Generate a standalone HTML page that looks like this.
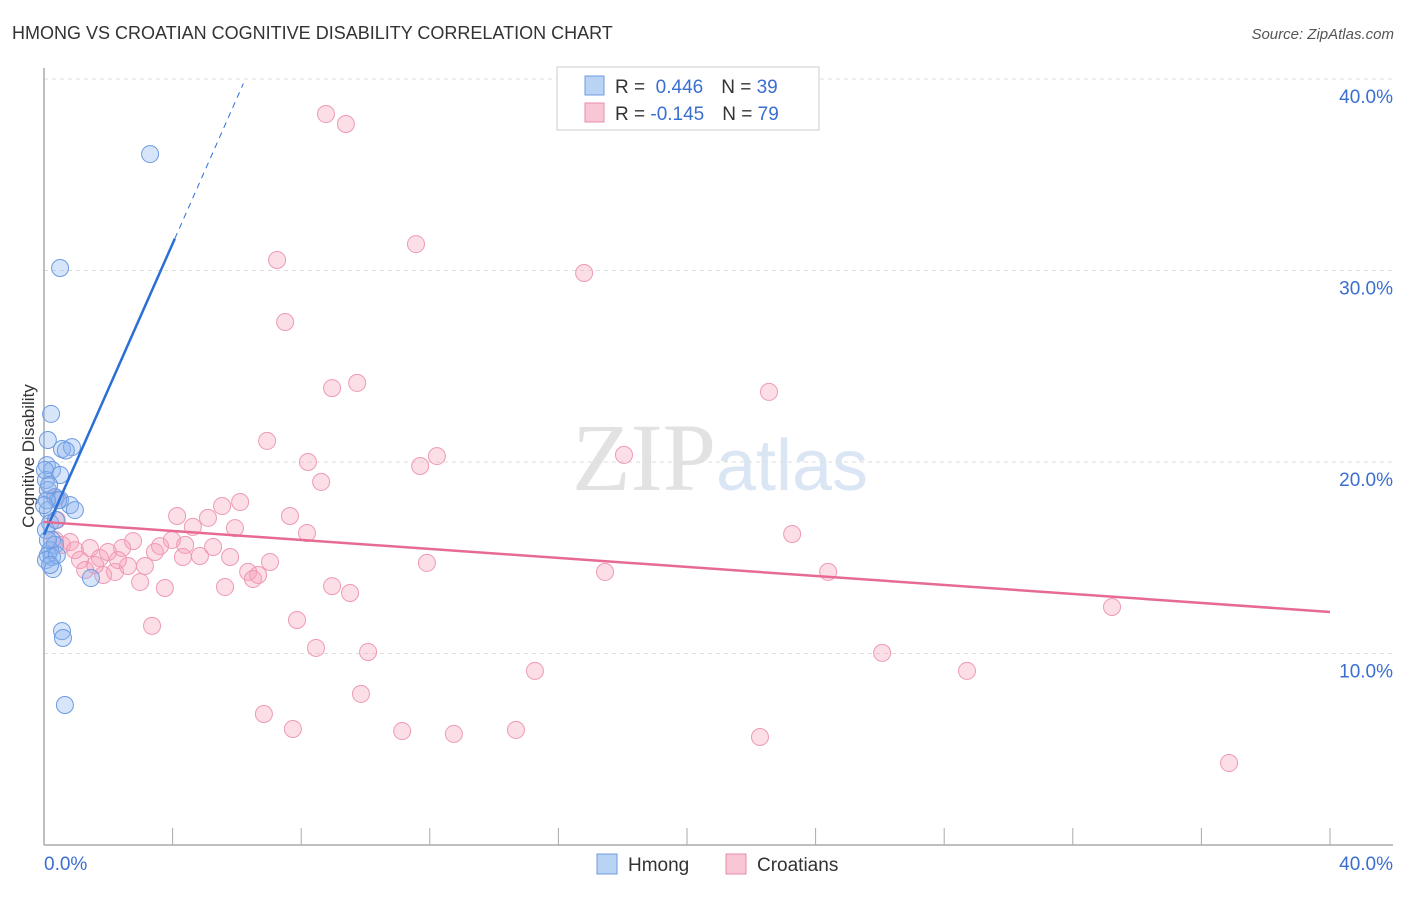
<!DOCTYPE html>
<html><head><meta charset="utf-8"><style>
body{margin:0;background:#fff;font-family:"Liberation Sans",sans-serif}
</style></head><body>
<svg width="1406" height="892" xmlns="http://www.w3.org/2000/svg" font-family="Liberation Sans, sans-serif">
<text x="12" y="39" font-size="18" fill="#333">HMONG VS CROATIAN COGNITIVE DISABILITY CORRELATION CHART</text>
<text x="1394" y="39" font-size="15" fill="#555" text-anchor="end" font-style="italic">Source: ZipAtlas.com</text>
<text x="720" y="490" font-size="96" text-anchor="middle" font-family="Liberation Serif, serif"><tspan fill="#e2e2e2">ZIP</tspan><tspan fill="#dbe6f5" font-family="Liberation Sans, sans-serif" font-size="72">atlas</tspan></text>
<g id="grid"></g>
<g id="axes"></g>
<text transform="translate(34,456) rotate(-90)" font-size="17" fill="#333" text-anchor="middle">Cognitive Disability</text>
<g id="pts"></g>
<g id="lines"></g>
<g>
<rect x="557" y="67" width="262" height="63" fill="#fff" stroke="#ccc"/>
<rect x="585" y="76" width="19" height="19" fill="#b9d3f5" stroke="#6d9be0"/>
<rect x="585" y="103" width="19" height="19" fill="#f9c6d5" stroke="#ea8eaa"/>
<text x="615" y="93" font-size="19" fill="#333">R = <tspan fill="#3a6fd1">&#160;0.446</tspan><tspan dx="18" fill="#333">N = </tspan><tspan fill="#3a6fd1">39</tspan></text>
<text x="615" y="120" font-size="19" fill="#333">R = <tspan fill="#3a6fd1">-0.145</tspan><tspan dx="18" fill="#333">N = </tspan><tspan fill="#3a6fd1">79</tspan></text>
</g>
<g>
<rect x="597" y="854" width="20" height="20" fill="#b9d3f5" stroke="#6d9be0"/>
<text x="628" y="871" font-size="19" fill="#333">Hmong</text>
<rect x="726" y="854" width="20" height="20" fill="#f9c6d5" stroke="#ea8eaa"/>
<text x="757" y="871" font-size="19" fill="#333">Croatians</text>
</g>
</svg>
<script>
const hmongX=[3.30,0.50,0.22,0.12,0.56,0.87,0.09,0.25,0.50,0.06,0.12,0.34,0.50,0.81,0.96,0.12,0.19,0.06,0.25,0.34,0.19,0.12,0.25,0.06,0.28,1.46,0.56,0.59,0.65,0.44,0.09,0.03,0.16,0.37,0.12,0.40,0.19,0.68,0.00];
const hmongY=[36.08,30.13,22.51,21.15,20.68,20.78,19.84,19.58,19.32,19.06,18.54,18.17,18.02,17.75,17.49,17.49,16.81,16.45,15.93,15.67,15.40,15.14,15.04,14.88,14.41,13.94,11.17,10.81,7.31,18.0,18.0,19.58,18.8,16.97,15.93,15.14,14.62,20.6,17.75];
const croX=[8.77,9.39,11.57,7.25,16.80,7.50,8.96,9.74,22.55,6.94,12.22,8.21,11.70,18.04,8.62,6.10,5.54,5.10,4.14,4.63,5.94,7.65,8.18,23.27,0.37,0.40,0.34,0.56,0.81,1.43,1.12,1.74,1.99,2.43,2.77,3.14,3.45,3.61,3.98,4.39,4.85,5.26,5.79,7.03,6.35,6.66,6.50,4.32,2.99,3.76,5.63,1.84,2.21,2.61,8.96,9.52,11.91,17.45,24.39,33.22,3.36,7.87,8.46,10.08,15.27,26.07,28.71,9.86,6.84,7.74,11.14,12.75,14.68,22.27,36.86,0.96,1.28,1.59,2.30];
const croY=[38.17,37.65,31.38,30.55,29.87,27.31,23.86,24.13,23.66,21.1,20.31,20.0,19.79,20.37,18.96,17.91,17.70,17.08,17.18,16.61,16.55,17.18,16.29,16.24,18.12,16.97,15.93,15.67,15.82,15.51,14.88,14.99,15.30,15.51,15.87,14.57,15.30,15.61,15.93,15.67,15.09,15.56,15.04,14.78,14.26,14.10,13.89,15.04,13.73,13.42,13.47,14.10,14.26,14.57,13.52,13.16,14.73,14.26,14.26,12.43,11.44,11.75,10.29,10.08,9.09,10.03,9.09,7.89,6.84,6.06,5.95,5.80,6.01,5.64,4.28,15.40,14.36,14.62,14.88];
const yTicks=[10,20,30,40];
const yTickLabels=["10.0%","20.0%","30.0%","40.0%"];
const xTicks=[0,4,8,12,16,20,24,28,32,36,40];
const hmongLine=[16.2,3.80];
const croLine=[16.87,-0.1175];
const NS="http://www.w3.org/2000/svg";
const sx=v=>44+v*32.15, sy=v=>845-v*19.15;
function mk(tag,attrs,parent){const e=document.createElementNS(NS,tag);for(const k in attrs)e.setAttribute(k,attrs[k]);document.getElementById(parent).appendChild(e);return e;}
yTicks.forEach((t,i)=>{
 const g=mk('line',{x1:44,x2:1393,y1:sy(t),y2:sy(t),stroke:'#ddd','stroke-dasharray':'4,4'},'grid');
 
 
 const tx=mk('text',{x:1393,y:sy(t)+24,'font-size':19,fill:'#3a6fd1','text-anchor':'end'},'grid');
 tx.textContent=yTickLabels[i];
 
 
});
let a=mk('line',{x1:44,x2:44,y1:68,y2:845,stroke:'#aaa','stroke-width':1.5},'axes');


a=mk('line',{x1:44,x2:1393,y1:845,y2:845,stroke:'#aaa','stroke-width':1.5},'axes');


xTicks.forEach(t=>{const l=mk('line',{x1:sx(t),x2:sx(t),y1:828,y2:845,stroke:'#aaa'},'axes');
 
 });
let t0=mk('text',{x:44,y:870,'font-size':19,fill:'#3a6fd1'},'axes');t0.textContent='0.0%';


let t1=mk('text',{x:1393,y:870,'font-size':19,fill:'#3a6fd1','text-anchor':'end'},'axes');t1.textContent='40.0%';


croX.forEach((x,i)=>{const c=mk('circle',{cx:sx(x),cy:sy(croY[i]),r:8.5,fill:'rgba(245,160,185,0.35)',stroke:'#ee9ab4','stroke-width':1},'pts');
 
 });
hmongX.forEach((x,i)=>{const c=mk('circle',{cx:sx(x),cy:sy(hmongY[i]),r:8.5,fill:'rgba(140,180,240,0.35)',stroke:'#6d9be0','stroke-width':1},'pts');
 
 });
let l=mk('line',{x1:sx(0),y1:sy(hmongLine[0]),x2:sx(4.07),y2:sy(hmongLine[0]+hmongLine[1]*4.07),stroke:'#2a6fd6','stroke-width':2.5},'lines');


l=mk('line',{x1:sx(4.07),y1:sy(hmongLine[0]+hmongLine[1]*4.07),x2:sx(6.2),y2:sy(hmongLine[0]+hmongLine[1]*6.2),stroke:'#2a6fd6','stroke-width':1,'stroke-dasharray':'6,5'},'lines');


l=mk('line',{x1:sx(0),y1:sy(croLine[0]),x2:sx(40),y2:sy(croLine[0]+croLine[1]*40),stroke:'#e76a93','stroke-width':2.5},'lines');


</script>
</body></html>
